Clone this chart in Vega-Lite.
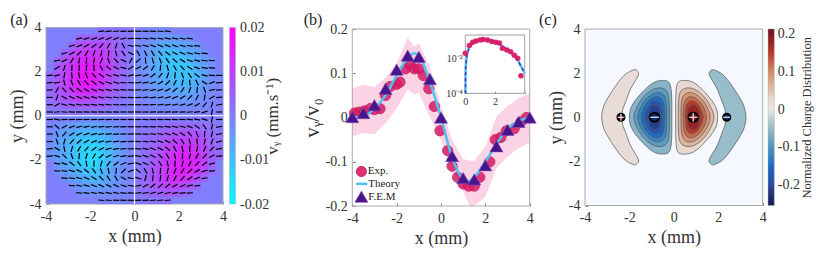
{"$schema":"https://vega.github.io/schema/vega-lite/v6.json","width":830,"height":266,"padding":0,"autosize":{"type":"none"},"background":"white",
"config":{"view":{"stroke":null},"axis":{"labelFont":"Liberation Serif","titleFont":"Liberation Serif","labelFontSize":14,"titleFontSize":18,"titleFontWeight":"normal","labelColor":"#333","titleColor":"#333","tickColor":"#888","domain":false,"grid":false,"tickSize":-3,"labelPadding":8,"labelFlush":false,"labelOverlap":false,"zindex":1},"text":{"font":"Liberation Serif","color":"#222"}},
"resolve":{"scale":{"x":"independent","y":"independent","color":"independent","size":"independent","angle":"independent"},"axis":{"x":"independent","y":"independent"}},
"datasets":{"field":[
{"x":-1.5,"y":3.83,"v":0.002,"a":8},{"x":-1.17,"y":3.83,"v":0.002,"a":6},{"x":-0.83,"y":3.83,"v":0.002,"a":5},{"x":-0.5,"y":3.83,"v":0.001,"a":3},{"x":-0.17,"y":3.83,"v":0.001,"a":2},{"x":0.17,"y":3.83,"v":0,"a":-2},{"x":0.5,"y":3.83,"v":-0.001,"a":-3},{"x":0.83,"y":3.83,"v":-0.001,"a":-4},{"x":1.17,"y":3.83,"v":-0.002,"a":-5},{"x":1.5,"y":3.83,"v":-0.002,"a":-6},
{"x":-2.5,"y":3.5,"v":0.004,"a":12},{"x":-2.17,"y":3.5,"v":0.006,"a":15},{"x":-1.83,"y":3.5,"v":0.006,"a":18},{"x":-1.5,"y":3.5,"v":0.006,"a":20},{"x":-1.17,"y":3.5,"v":0.005,"a":22},{"x":-0.83,"y":3.5,"v":0.004,"a":20},{"x":-0.5,"y":3.5,"v":0.002,"a":10},{"x":-0.17,"y":3.5,"v":0.001,"a":3},{"x":0.17,"y":3.5,"v":-0.001,"a":-3},{"x":0.5,"y":3.5,"v":-0.002,"a":-5},{"x":0.83,"y":3.5,"v":-0.003,"a":-8},{"x":1.17,"y":3.5,"v":-0.004,"a":-10},{"x":1.5,"y":3.5,"v":-0.005,"a":-12},{"x":1.83,"y":3.5,"v":-0.005,"a":-12},{"x":2.17,"y":3.5,"v":-0.004,"a":-10},{"x":2.5,"y":3.5,"v":-0.003,"a":-8},
{"x":-2.83,"y":3.17,"v":0.005,"a":18},{"x":-2.5,"y":3.17,"v":0.008,"a":22},{"x":-2.17,"y":3.17,"v":0.01,"a":30},{"x":-1.83,"y":3.17,"v":0.01,"a":38},{"x":-1.5,"y":3.17,"v":0.01,"a":50},{"x":-1.17,"y":3.17,"v":0.008,"a":60},{"x":-0.83,"y":3.17,"v":0.005,"a":70},{"x":-0.5,"y":3.17,"v":0.003,"a":-60},{"x":-0.17,"y":3.17,"v":0.001,"a":-10},{"x":0.17,"y":3.17,"v":-0.002,"a":-8},{"x":0.5,"y":3.17,"v":-0.003,"a":-15},{"x":0.83,"y":3.17,"v":-0.005,"a":-20},{"x":1.17,"y":3.17,"v":-0.007,"a":-22},{"x":1.5,"y":3.17,"v":-0.008,"a":-22},{"x":1.83,"y":3.17,"v":-0.008,"a":-20},{"x":2.17,"y":3.17,"v":-0.007,"a":-15},{"x":2.5,"y":3.17,"v":-0.006,"a":-10},{"x":2.83,"y":3.17,"v":-0.004,"a":-5},
{"x":-3.17,"y":2.83,"v":0.005,"a":15},{"x":-2.83,"y":2.83,"v":0.009,"a":28},{"x":-2.5,"y":2.83,"v":0.012,"a":45},{"x":-2.17,"y":2.83,"v":0.014,"a":60},{"x":-1.83,"y":2.83,"v":0.014,"a":70},{"x":-1.5,"y":2.83,"v":0.013,"a":78},{"x":-1.17,"y":2.83,"v":0.01,"a":85},{"x":-0.83,"y":2.83,"v":0.007,"a":-75},{"x":-0.5,"y":2.83,"v":0.004,"a":-55},{"x":-0.17,"y":2.83,"v":0.001,"a":-25},{"x":0.17,"y":2.83,"v":-0.002,"a":-60},{"x":0.5,"y":2.83,"v":-0.004,"a":-65},{"x":0.83,"y":2.83,"v":-0.006,"a":-60},{"x":1.17,"y":2.83,"v":-0.009,"a":-50},{"x":1.5,"y":2.83,"v":-0.011,"a":-38},{"x":1.83,"y":2.83,"v":-0.011,"a":-30},{"x":2.17,"y":2.83,"v":-0.01,"a":-22},{"x":2.5,"y":2.83,"v":-0.008,"a":-15},{"x":2.83,"y":2.83,"v":-0.006,"a":-10},{"x":3.17,"y":2.83,"v":-0.003,"a":-5},
{"x":-3.5,"y":2.5,"v":0.004,"a":10},{"x":-3.17,"y":2.5,"v":0.008,"a":25},{"x":-2.83,"y":2.5,"v":0.012,"a":60},{"x":-2.5,"y":2.5,"v":0.015,"a":80},{"x":-2.17,"y":2.5,"v":0.017,"a":85},{"x":-1.83,"y":2.5,"v":0.016,"a":80},{"x":-1.5,"y":2.5,"v":0.014,"a":65},{"x":-1.17,"y":2.5,"v":0.011,"a":-70},{"x":-0.83,"y":2.5,"v":0.007,"a":-45},{"x":-0.5,"y":2.5,"v":0.004,"a":-25},{"x":-0.17,"y":2.5,"v":0.001,"a":60},{"x":0.17,"y":2.5,"v":-0.002,"a":40},{"x":0.5,"y":2.5,"v":-0.004,"a":-85},{"x":0.83,"y":2.5,"v":-0.007,"a":-75},{"x":1.17,"y":2.5,"v":-0.01,"a":-70},{"x":1.5,"y":2.5,"v":-0.012,"a":-55},{"x":1.83,"y":2.5,"v":-0.013,"a":-42},{"x":2.17,"y":2.5,"v":-0.012,"a":-30},{"x":2.5,"y":2.5,"v":-0.01,"a":-22},{"x":2.83,"y":2.5,"v":-0.008,"a":-15},{"x":3.17,"y":2.5,"v":-0.005,"a":-8},{"x":3.5,"y":2.5,"v":-0.003,"a":-3},
{"x":-3.5,"y":2.17,"v":0.006,"a":30},{"x":-3.17,"y":2.17,"v":0.01,"a":70},{"x":-2.83,"y":2.17,"v":0.014,"a":88},{"x":-2.5,"y":2.17,"v":0.017,"a":88},{"x":-2.17,"y":2.17,"v":0.019,"a":85},{"x":-1.83,"y":2.17,"v":0.018,"a":-85},{"x":-1.5,"y":2.17,"v":0.015,"a":-60},{"x":-1.17,"y":2.17,"v":0.012,"a":-40},{"x":-0.83,"y":2.17,"v":0.008,"a":-25},{"x":-0.5,"y":2.17,"v":0.004,"a":-15},{"x":-0.17,"y":2.17,"v":0.001,"a":30},{"x":0.17,"y":2.17,"v":-0.002,"a":25},{"x":0.5,"y":2.17,"v":-0.004,"a":35},{"x":0.83,"y":2.17,"v":-0.007,"a":60},{"x":1.17,"y":2.17,"v":-0.01,"a":85},{"x":1.5,"y":2.17,"v":-0.012,"a":-75},{"x":1.83,"y":2.17,"v":-0.013,"a":-60},{"x":2.17,"y":2.17,"v":-0.013,"a":-45},{"x":2.5,"y":2.17,"v":-0.012,"a":-32},{"x":2.83,"y":2.17,"v":-0.009,"a":-20},{"x":3.17,"y":2.17,"v":-0.006,"a":-10},{"x":3.5,"y":2.17,"v":-0.003,"a":-3},
{"x":-3.83,"y":1.83,"v":0.004,"a":5},{"x":-3.5,"y":1.83,"v":0.007,"a":15},{"x":-3.17,"y":1.83,"v":0.011,"a":80},{"x":-2.83,"y":1.83,"v":0.015,"a":-85},{"x":-2.5,"y":1.83,"v":0.018,"a":-80},{"x":-2.17,"y":1.83,"v":0.02,"a":-70},{"x":-1.83,"y":1.83,"v":0.018,"a":-50},{"x":-1.5,"y":1.83,"v":0.015,"a":-35},{"x":-1.17,"y":1.83,"v":0.011,"a":-22},{"x":-0.83,"y":1.83,"v":0.007,"a":-15},{"x":-0.5,"y":1.83,"v":0.004,"a":-8},{"x":-0.17,"y":1.83,"v":0.001,"a":15},{"x":0.17,"y":1.83,"v":-0.001,"a":10},{"x":0.5,"y":1.83,"v":-0.003,"a":20},{"x":0.83,"y":1.83,"v":-0.006,"a":35},{"x":1.17,"y":1.83,"v":-0.008,"a":50},{"x":1.5,"y":1.83,"v":-0.01,"a":70},{"x":1.83,"y":1.83,"v":-0.012,"a":85},{"x":2.17,"y":1.83,"v":-0.012,"a":-70},{"x":2.5,"y":1.83,"v":-0.012,"a":-55},{"x":2.83,"y":1.83,"v":-0.01,"a":-35},{"x":3.17,"y":1.83,"v":-0.006,"a":-15},{"x":3.5,"y":1.83,"v":-0.003,"a":-5},{"x":3.83,"y":1.83,"v":-0.002,"a":0},
{"x":-3.83,"y":1.5,"v":0.004,"a":3},{"x":-3.5,"y":1.5,"v":0.007,"a":10},{"x":-3.17,"y":1.5,"v":0.011,"a":-75},{"x":-2.83,"y":1.5,"v":0.015,"a":-70},{"x":-2.5,"y":1.5,"v":0.018,"a":-60},{"x":-2.17,"y":1.5,"v":0.02,"a":-48},{"x":-1.83,"y":1.5,"v":0.018,"a":-38},{"x":-1.5,"y":1.5,"v":0.014,"a":-28},{"x":-1.17,"y":1.5,"v":0.01,"a":-18},{"x":-0.83,"y":1.5,"v":0.006,"a":-12},{"x":-0.5,"y":1.5,"v":0.003,"a":-6},{"x":-0.17,"y":1.5,"v":0.001,"a":-3},{"x":0.17,"y":1.5,"v":-0.001,"a":5},{"x":0.5,"y":1.5,"v":-0.003,"a":10},{"x":0.83,"y":1.5,"v":-0.005,"a":18},{"x":1.17,"y":1.5,"v":-0.007,"a":30},{"x":1.5,"y":1.5,"v":-0.008,"a":45},{"x":1.83,"y":1.5,"v":-0.01,"a":62},{"x":2.17,"y":1.5,"v":-0.011,"a":78},{"x":2.5,"y":1.5,"v":-0.01,"a":-85},{"x":2.83,"y":1.5,"v":-0.008,"a":-65},{"x":3.17,"y":1.5,"v":-0.005,"a":-30},{"x":3.5,"y":1.5,"v":-0.003,"a":20},{"x":3.83,"y":1.5,"v":-0.001,"a":5},
{"x":-3.83,"y":1.17,"v":0.004,"a":3},{"x":-3.5,"y":1.17,"v":0.007,"a":60},{"x":-3.17,"y":1.17,"v":0.01,"a":-50},{"x":-2.83,"y":1.17,"v":0.013,"a":-45},{"x":-2.5,"y":1.17,"v":0.016,"a":-38},{"x":-2.17,"y":1.17,"v":0.017,"a":-30},{"x":-1.83,"y":1.17,"v":0.015,"a":-22},{"x":-1.5,"y":1.17,"v":0.012,"a":-16},{"x":-1.17,"y":1.17,"v":0.008,"a":-12},{"x":-0.83,"y":1.17,"v":0.005,"a":-8},{"x":-0.5,"y":1.17,"v":0.003,"a":-5},{"x":-0.17,"y":1.17,"v":0.001,"a":-2},{"x":0.17,"y":1.17,"v":-0.001,"a":3},{"x":0.5,"y":1.17,"v":-0.002,"a":8},{"x":0.83,"y":1.17,"v":-0.004,"a":12},{"x":1.17,"y":1.17,"v":-0.005,"a":18},{"x":1.5,"y":1.17,"v":-0.006,"a":28},{"x":1.83,"y":1.17,"v":-0.007,"a":40},{"x":2.17,"y":1.17,"v":-0.008,"a":55},{"x":2.5,"y":1.17,"v":-0.008,"a":70},{"x":2.83,"y":1.17,"v":-0.006,"a":85},{"x":3.17,"y":1.17,"v":-0.004,"a":-70},{"x":3.5,"y":1.17,"v":-0.002,"a":10},{"x":3.83,"y":1.17,"v":-0.001,"a":3},
{"x":-3.83,"y":0.83,"v":0.003,"a":0},{"x":-3.5,"y":0.83,"v":0.006,"a":70},{"x":-3.17,"y":0.83,"v":0.008,"a":-30},{"x":-2.83,"y":0.83,"v":0.01,"a":-25},{"x":-2.5,"y":0.83,"v":0.012,"a":-22},{"x":-2.17,"y":0.83,"v":0.012,"a":-18},{"x":-1.83,"y":0.83,"v":0.011,"a":-14},{"x":-1.5,"y":0.83,"v":0.009,"a":-10},{"x":-1.17,"y":0.83,"v":0.006,"a":-8},{"x":-0.83,"y":0.83,"v":0.004,"a":-6},{"x":-0.5,"y":0.83,"v":0.002,"a":-3},{"x":-0.17,"y":0.83,"v":0.001,"a":-2},{"x":0.17,"y":0.83,"v":-0.001,"a":2},{"x":0.5,"y":0.83,"v":-0.002,"a":4},{"x":0.83,"y":0.83,"v":-0.003,"a":7},{"x":1.17,"y":0.83,"v":-0.004,"a":10},{"x":1.5,"y":0.83,"v":-0.004,"a":15},{"x":1.83,"y":0.83,"v":-0.005,"a":22},{"x":2.17,"y":0.83,"v":-0.005,"a":32},{"x":2.5,"y":0.83,"v":-0.005,"a":45},{"x":2.83,"y":0.83,"v":-0.004,"a":62},{"x":3.17,"y":0.83,"v":-0.003,"a":80},{"x":3.5,"y":0.83,"v":-0.002,"a":30},{"x":3.83,"y":0.83,"v":0,"a":5},
{"x":-3.83,"y":0.5,"v":0.002,"a":0},{"x":-3.5,"y":0.5,"v":0.004,"a":30},{"x":-3.17,"y":0.5,"v":0.005,"a":-15},{"x":-2.83,"y":0.5,"v":0.006,"a":-12},{"x":-2.5,"y":0.5,"v":0.007,"a":-10},{"x":-2.17,"y":0.5,"v":0.007,"a":-8},{"x":-1.83,"y":0.5,"v":0.006,"a":-7},{"x":-1.5,"y":0.5,"v":0.005,"a":-6},{"x":-1.17,"y":0.5,"v":0.004,"a":-5},{"x":-0.83,"y":0.5,"v":0.002,"a":-4},{"x":-0.5,"y":0.5,"v":0.001,"a":-2},{"x":-0.17,"y":0.5,"v":0,"a":0},{"x":0.17,"y":0.5,"v":0,"a":0},{"x":0.5,"y":0.5,"v":-0.001,"a":2},{"x":0.83,"y":0.5,"v":-0.002,"a":4},{"x":1.17,"y":0.5,"v":-0.002,"a":5},{"x":1.5,"y":0.5,"v":-0.003,"a":7},{"x":1.83,"y":0.5,"v":-0.003,"a":10},{"x":2.17,"y":0.5,"v":-0.003,"a":15},{"x":2.5,"y":0.5,"v":-0.003,"a":20},{"x":2.83,"y":0.5,"v":-0.002,"a":30},{"x":3.17,"y":0.5,"v":-0.002,"a":50},{"x":3.5,"y":0.5,"v":-0.001,"a":75},{"x":3.83,"y":0.5,"v":0,"a":10},
{"x":-3.83,"y":0.17,"v":0.001,"a":0},{"x":-3.5,"y":0.17,"v":0.001,"a":5},{"x":-3.17,"y":0.17,"v":0.002,"a":-5},{"x":-2.83,"y":0.17,"v":0.002,"a":-4},{"x":-2.5,"y":0.17,"v":0.002,"a":-3},{"x":-2.17,"y":0.17,"v":0.002,"a":-3},{"x":-1.83,"y":0.17,"v":0.002,"a":-3},{"x":-1.5,"y":0.17,"v":0.002,"a":-2},{"x":-1.17,"y":0.17,"v":0.001,"a":-2},{"x":-0.83,"y":0.17,"v":0.001,"a":-1},{"x":-0.5,"y":0.17,"v":0,"a":0},{"x":-0.17,"y":0.17,"v":0,"a":0},{"x":0.17,"y":0.17,"v":0,"a":0},{"x":0.5,"y":0.17,"v":0,"a":0},{"x":0.83,"y":0.17,"v":-0.001,"a":1},{"x":1.17,"y":0.17,"v":-0.001,"a":2},{"x":1.5,"y":0.17,"v":-0.001,"a":2},{"x":1.83,"y":0.17,"v":-0.001,"a":3},{"x":2.17,"y":0.17,"v":-0.001,"a":4},{"x":2.5,"y":0.17,"v":-0.001,"a":5},{"x":2.83,"y":0.17,"v":-0.001,"a":8},{"x":3.17,"y":0.17,"v":0,"a":15},{"x":3.5,"y":0.17,"v":0,"a":80},{"x":3.83,"y":0.17,"v":0,"a":0},
{"x":-3.83,"y":-0.17,"v":0,"a":0},{"x":-3.5,"y":-0.17,"v":0,"a":-10},{"x":-3.17,"y":-0.17,"v":-0.001,"a":4},{"x":-2.83,"y":-0.17,"v":-0.001,"a":3},{"x":-2.5,"y":-0.17,"v":-0.002,"a":3},{"x":-2.17,"y":-0.17,"v":-0.002,"a":2},{"x":-1.83,"y":-0.17,"v":-0.002,"a":2},{"x":-1.5,"y":-0.17,"v":-0.002,"a":1},{"x":-1.17,"y":-0.17,"v":-0.001,"a":1},{"x":-0.83,"y":-0.17,"v":-0.001,"a":0},{"x":-0.5,"y":-0.17,"v":0,"a":0},{"x":-0.17,"y":-0.17,"v":0,"a":0},{"x":0.17,"y":-0.17,"v":0,"a":0},{"x":0.5,"y":-0.17,"v":0,"a":-1},{"x":0.83,"y":-0.17,"v":0.001,"a":-1},{"x":1.17,"y":-0.17,"v":0.001,"a":-2},{"x":1.5,"y":-0.17,"v":0.001,"a":-2},{"x":1.83,"y":-0.17,"v":0.001,"a":-3},{"x":2.17,"y":-0.17,"v":0.001,"a":-4},{"x":2.5,"y":-0.17,"v":0.001,"a":-6},{"x":2.83,"y":-0.17,"v":0.001,"a":-10},{"x":3.17,"y":-0.17,"v":0.001,"a":-15},{"x":3.5,"y":-0.17,"v":0.001,"a":80},{"x":3.83,"y":-0.17,"v":0,"a":0},
{"x":-3.83,"y":-0.5,"v":-0.001,"a":0},{"x":-3.5,"y":-0.5,"v":-0.002,"a":-40},{"x":-3.17,"y":-0.5,"v":-0.004,"a":30},{"x":-2.83,"y":-0.5,"v":-0.005,"a":20},{"x":-2.5,"y":-0.5,"v":-0.006,"a":15},{"x":-2.17,"y":-0.5,"v":-0.007,"a":12},{"x":-1.83,"y":-0.5,"v":-0.007,"a":10},{"x":-1.5,"y":-0.5,"v":-0.006,"a":8},{"x":-1.17,"y":-0.5,"v":-0.005,"a":5},{"x":-0.83,"y":-0.5,"v":-0.003,"a":4},{"x":-0.5,"y":-0.5,"v":-0.002,"a":2},{"x":-0.17,"y":-0.5,"v":0,"a":0},{"x":0.17,"y":-0.5,"v":0.001,"a":0},{"x":0.5,"y":-0.5,"v":0.001,"a":-2},{"x":0.83,"y":-0.5,"v":0.002,"a":-3},{"x":1.17,"y":-0.5,"v":0.003,"a":-5},{"x":1.5,"y":-0.5,"v":0.004,"a":-7},{"x":1.83,"y":-0.5,"v":0.005,"a":-10},{"x":2.17,"y":-0.5,"v":0.005,"a":-14},{"x":2.5,"y":-0.5,"v":0.005,"a":-20},{"x":2.83,"y":-0.5,"v":0.004,"a":-35},{"x":3.17,"y":-0.5,"v":0.003,"a":-55},{"x":3.5,"y":-0.5,"v":0.002,"a":80},{"x":3.83,"y":-0.5,"v":0.001,"a":10},
{"x":-3.83,"y":-0.83,"v":-0.002,"a":0},{"x":-3.5,"y":-0.83,"v":-0.004,"a":-70},{"x":-3.17,"y":-0.83,"v":-0.006,"a":50},{"x":-2.83,"y":-0.83,"v":-0.008,"a":32},{"x":-2.5,"y":-0.83,"v":-0.01,"a":25},{"x":-2.17,"y":-0.83,"v":-0.011,"a":18},{"x":-1.83,"y":-0.83,"v":-0.011,"a":14},{"x":-1.5,"y":-0.83,"v":-0.01,"a":10},{"x":-1.17,"y":-0.83,"v":-0.007,"a":7},{"x":-0.83,"y":-0.83,"v":-0.005,"a":5},{"x":-0.5,"y":-0.83,"v":-0.003,"a":3},{"x":-0.17,"y":-0.83,"v":-0.001,"a":2},{"x":0.17,"y":-0.83,"v":0.001,"a":-2},{"x":0.5,"y":-0.83,"v":0.002,"a":-4},{"x":0.83,"y":-0.83,"v":0.003,"a":-6},{"x":1.17,"y":-0.83,"v":0.005,"a":-10},{"x":1.5,"y":-0.83,"v":0.006,"a":-15},{"x":1.83,"y":-0.83,"v":0.008,"a":-22},{"x":2.17,"y":-0.83,"v":0.009,"a":-32},{"x":2.5,"y":-0.83,"v":0.009,"a":-48},{"x":2.83,"y":-0.83,"v":0.008,"a":-68},{"x":3.17,"y":-0.83,"v":0.006,"a":85},{"x":3.5,"y":-0.83,"v":0.004,"a":75},{"x":3.83,"y":-0.83,"v":0.002,"a":10},
{"x":-3.83,"y":-1.17,"v":-0.002,"a":0},{"x":-3.5,"y":-1.17,"v":-0.005,"a":-70},{"x":-3.17,"y":-1.17,"v":-0.007,"a":75},{"x":-2.83,"y":-1.17,"v":-0.01,"a":50},{"x":-2.5,"y":-1.17,"v":-0.012,"a":40},{"x":-2.17,"y":-1.17,"v":-0.014,"a":30},{"x":-1.83,"y":-1.17,"v":-0.014,"a":22},{"x":-1.5,"y":-1.17,"v":-0.012,"a":16},{"x":-1.17,"y":-1.17,"v":-0.009,"a":10},{"x":-0.83,"y":-1.17,"v":-0.006,"a":7},{"x":-0.5,"y":-1.17,"v":-0.003,"a":4},{"x":-0.17,"y":-1.17,"v":-0.001,"a":2},{"x":0.17,"y":-1.17,"v":0.001,"a":-3},{"x":0.5,"y":-1.17,"v":0.003,"a":-6},{"x":0.83,"y":-1.17,"v":0.004,"a":-10},{"x":1.17,"y":-1.17,"v":0.006,"a":-18},{"x":1.5,"y":-1.17,"v":0.008,"a":-28},{"x":1.83,"y":-1.17,"v":0.011,"a":-42},{"x":2.17,"y":-1.17,"v":0.012,"a":-58},{"x":2.5,"y":-1.17,"v":0.012,"a":-75},{"x":2.83,"y":-1.17,"v":0.011,"a":-88},{"x":3.17,"y":-1.17,"v":0.008,"a":78},{"x":3.5,"y":-1.17,"v":0.005,"a":70},{"x":3.83,"y":-1.17,"v":0.003,"a":15},
{"x":-3.83,"y":-1.5,"v":-0.003,"a":3},{"x":-3.5,"y":-1.5,"v":-0.005,"a":-30},{"x":-3.17,"y":-1.5,"v":-0.008,"a":-80},{"x":-2.83,"y":-1.5,"v":-0.011,"a":75},{"x":-2.5,"y":-1.5,"v":-0.014,"a":60},{"x":-2.17,"y":-1.5,"v":-0.016,"a":48},{"x":-1.83,"y":-1.5,"v":-0.016,"a":36},{"x":-1.5,"y":-1.5,"v":-0.014,"a":26},{"x":-1.17,"y":-1.5,"v":-0.01,"a":16},{"x":-0.83,"y":-1.5,"v":-0.007,"a":10},{"x":-0.5,"y":-1.5,"v":-0.004,"a":6},{"x":-0.17,"y":-1.5,"v":-0.001,"a":3},{"x":0.17,"y":-1.5,"v":0.001,"a":-5},{"x":0.5,"y":-1.5,"v":0.003,"a":-10},{"x":0.83,"y":-1.5,"v":0.005,"a":-18},{"x":1.17,"y":-1.5,"v":0.008,"a":-28},{"x":1.5,"y":-1.5,"v":0.011,"a":-42},{"x":1.83,"y":-1.5,"v":0.013,"a":-60},{"x":2.17,"y":-1.5,"v":0.015,"a":-78},{"x":2.5,"y":-1.5,"v":0.015,"a":88},{"x":2.83,"y":-1.5,"v":0.013,"a":78},{"x":3.17,"y":-1.5,"v":0.01,"a":65},{"x":3.5,"y":-1.5,"v":0.006,"a":45},{"x":3.83,"y":-1.5,"v":0.003,"a":10},
{"x":-3.83,"y":-1.83,"v":-0.003,"a":3},{"x":-3.5,"y":-1.83,"v":-0.005,"a":-15},{"x":-3.17,"y":-1.83,"v":-0.008,"a":-45},{"x":-2.83,"y":-1.83,"v":-0.011,"a":-70},{"x":-2.5,"y":-1.83,"v":-0.014,"a":85},{"x":-2.17,"y":-1.83,"v":-0.016,"a":72},{"x":-1.83,"y":-1.83,"v":-0.017,"a":58},{"x":-1.5,"y":-1.83,"v":-0.015,"a":42},{"x":-1.17,"y":-1.83,"v":-0.011,"a":28},{"x":-0.83,"y":-1.83,"v":-0.007,"a":16},{"x":-0.5,"y":-1.83,"v":-0.004,"a":10},{"x":-0.17,"y":-1.83,"v":-0.001,"a":5},{"x":0.17,"y":-1.83,"v":0.001,"a":-10},{"x":0.5,"y":-1.83,"v":0.003,"a":-18},{"x":0.83,"y":-1.83,"v":0.006,"a":-28},{"x":1.17,"y":-1.83,"v":0.009,"a":-42},{"x":1.5,"y":-1.83,"v":0.012,"a":-60},{"x":1.83,"y":-1.83,"v":0.015,"a":-78},{"x":2.17,"y":-1.83,"v":0.017,"a":88},{"x":2.5,"y":-1.83,"v":0.017,"a":76},{"x":2.83,"y":-1.83,"v":0.015,"a":62},{"x":3.17,"y":-1.83,"v":0.011,"a":50},{"x":3.5,"y":-1.83,"v":0.007,"a":25},{"x":3.83,"y":-1.83,"v":0.004,"a":5},
{"x":-3.5,"y":-2.17,"v":-0.004,"a":-8},{"x":-3.17,"y":-2.17,"v":-0.007,"a":-20},{"x":-2.83,"y":-2.17,"v":-0.01,"a":-35},{"x":-2.5,"y":-2.17,"v":-0.013,"a":-55},{"x":-2.17,"y":-2.17,"v":-0.015,"a":-80},{"x":-1.83,"y":-2.17,"v":-0.016,"a":88},{"x":-1.5,"y":-2.17,"v":-0.014,"a":75},{"x":-1.17,"y":-2.17,"v":-0.01,"a":55},{"x":-0.83,"y":-2.17,"v":-0.006,"a":35},{"x":-0.5,"y":-2.17,"v":-0.003,"a":22},{"x":-0.17,"y":-2.17,"v":-0.001,"a":10},{"x":0.17,"y":-2.17,"v":0.001,"a":-18},{"x":0.5,"y":-2.17,"v":0.003,"a":-25},{"x":0.83,"y":-2.17,"v":0.006,"a":-40},{"x":1.17,"y":-2.17,"v":0.01,"a":-58},{"x":1.5,"y":-2.17,"v":0.013,"a":-78},{"x":1.83,"y":-2.17,"v":0.016,"a":88},{"x":2.17,"y":-2.17,"v":0.018,"a":75},{"x":2.5,"y":-2.17,"v":0.018,"a":62},{"x":2.83,"y":-2.17,"v":0.016,"a":48},{"x":3.17,"y":-2.17,"v":0.011,"a":35},{"x":3.5,"y":-2.17,"v":0.006,"a":15},
{"x":-3.5,"y":-2.5,"v":-0.003,"a":-3},{"x":-3.17,"y":-2.5,"v":-0.005,"a":-8},{"x":-2.83,"y":-2.5,"v":-0.008,"a":-15},{"x":-2.5,"y":-2.5,"v":-0.01,"a":-25},{"x":-2.17,"y":-2.5,"v":-0.012,"a":-38},{"x":-1.83,"y":-2.5,"v":-0.013,"a":-52},{"x":-1.5,"y":-2.5,"v":-0.011,"a":-70},{"x":-1.17,"y":-2.5,"v":-0.008,"a":-80},{"x":-0.83,"y":-2.5,"v":-0.005,"a":85},{"x":-0.5,"y":-2.5,"v":-0.002,"a":45},{"x":-0.17,"y":-2.5,"v":-0.001,"a":20},{"x":0.17,"y":-2.5,"v":0.001,"a":-40},{"x":0.5,"y":-2.5,"v":0.004,"a":-60},{"x":0.83,"y":-2.5,"v":0.007,"a":-78},{"x":1.17,"y":-2.5,"v":0.011,"a":85},{"x":1.5,"y":-2.5,"v":0.014,"a":78},{"x":1.83,"y":-2.5,"v":0.017,"a":68},{"x":2.17,"y":-2.5,"v":0.018,"a":55},{"x":2.5,"y":-2.5,"v":0.017,"a":42},{"x":2.83,"y":-2.5,"v":0.014,"a":30},{"x":3.17,"y":-2.5,"v":0.009,"a":18},{"x":3.5,"y":-2.5,"v":0.004,"a":5},
{"x":-3.17,"y":-2.83,"v":-0.003,"a":-5},{"x":-2.83,"y":-2.83,"v":-0.005,"a":-8},{"x":-2.5,"y":-2.83,"v":-0.007,"a":-15},{"x":-2.17,"y":-2.83,"v":-0.009,"a":-22},{"x":-1.83,"y":-2.83,"v":-0.01,"a":-32},{"x":-1.5,"y":-2.83,"v":-0.009,"a":-45},{"x":-1.17,"y":-2.83,"v":-0.007,"a":-58},{"x":-0.83,"y":-2.83,"v":-0.005,"a":-60},{"x":-0.5,"y":-2.83,"v":-0.002,"a":-30},{"x":-0.17,"y":-2.83,"v":-0.001,"a":-10},{"x":0.17,"y":-2.83,"v":0.002,"a":-15},{"x":0.5,"y":-2.83,"v":0.004,"a":75},{"x":0.83,"y":-2.83,"v":0.008,"a":85},{"x":1.17,"y":-2.83,"v":0.011,"a":82},{"x":1.5,"y":-2.83,"v":0.014,"a":72},{"x":1.83,"y":-2.83,"v":0.015,"a":62},{"x":2.17,"y":-2.83,"v":0.015,"a":50},{"x":2.5,"y":-2.83,"v":0.013,"a":35},{"x":2.83,"y":-2.83,"v":0.009,"a":20},{"x":3.17,"y":-2.83,"v":0.005,"a":8},
{"x":-2.83,"y":-3.17,"v":-0.003,"a":-5},{"x":-2.5,"y":-3.17,"v":-0.004,"a":-10},{"x":-2.17,"y":-3.17,"v":-0.006,"a":-14},{"x":-1.83,"y":-3.17,"v":-0.006,"a":-20},{"x":-1.5,"y":-3.17,"v":-0.006,"a":-26},{"x":-1.17,"y":-3.17,"v":-0.005,"a":-28},{"x":-0.83,"y":-3.17,"v":-0.003,"a":-25},{"x":-0.5,"y":-3.17,"v":-0.002,"a":-18},{"x":-0.17,"y":-3.17,"v":-0.001,"a":-8},{"x":0.17,"y":-3.17,"v":0.002,"a":10},{"x":0.5,"y":-3.17,"v":0.004,"a":30},{"x":0.83,"y":-3.17,"v":0.007,"a":40},{"x":1.17,"y":-3.17,"v":0.009,"a":42},{"x":1.5,"y":-3.17,"v":0.011,"a":38},{"x":1.83,"y":-3.17,"v":0.012,"a":32},{"x":2.17,"y":-3.17,"v":0.01,"a":24},{"x":2.5,"y":-3.17,"v":0.008,"a":14},{"x":2.83,"y":-3.17,"v":0.005,"a":6},
{"x":-2.5,"y":-3.5,"v":-0.002,"a":-5},{"x":-2.17,"y":-3.5,"v":-0.003,"a":-8},{"x":-1.83,"y":-3.5,"v":-0.003,"a":-10},{"x":-1.5,"y":-3.5,"v":-0.003,"a":-12},{"x":-1.17,"y":-3.5,"v":-0.003,"a":-12},{"x":-0.83,"y":-3.5,"v":-0.002,"a":-10},{"x":-0.5,"y":-3.5,"v":-0.001,"a":-7},{"x":-0.17,"y":-3.5,"v":0,"a":-3},{"x":0.17,"y":-3.5,"v":0.001,"a":5},{"x":0.5,"y":-3.5,"v":0.003,"a":10},{"x":0.83,"y":-3.5,"v":0.005,"a":15},{"x":1.17,"y":-3.5,"v":0.006,"a":15},{"x":1.5,"y":-3.5,"v":0.007,"a":14},{"x":1.83,"y":-3.5,"v":0.007,"a":12},{"x":2.17,"y":-3.5,"v":0.005,"a":8},{"x":2.5,"y":-3.5,"v":0.003,"a":4},
{"x":-1.5,"y":-3.83,"v":-0.001,"a":-5},{"x":-1.17,"y":-3.83,"v":-0.001,"a":-5},{"x":-0.83,"y":-3.83,"v":-0.001,"a":-4},{"x":-0.5,"y":-3.83,"v":-0.001,"a":-3},{"x":-0.17,"y":-3.83,"v":0,"a":-2},{"x":0.17,"y":-3.83,"v":0.001,"a":3},{"x":0.5,"y":-3.83,"v":0.001,"a":4},{"x":0.83,"y":-3.83,"v":0.002,"a":5},{"x":1.17,"y":-3.83,"v":0.002,"a":5},{"x":1.5,"y":-3.83,"v":0.003,"a":5}
],
"contours":[
{"k":"c1","i":1,"l":0.02,"x":-1.65,"y":2.1},{"k":"c1","i":2,"l":0.02,"x":-1.8,"y":2.15},{"k":"c1","i":3,"l":0.02,"x":-2.24,"y":1.9},{"k":"c1","i":4,"l":0.02,"x":-2.7,"y":1.3},{"k":"c1","i":5,"l":0.02,"x":-3.07,"y":0.7},{"k":"c1","i":5.5,"l":0.02,"x":-3.2,"y":0.35},{"k":"c1","i":6,"l":0.02,"x":-3.25,"y":0},{"k":"c1","i":6.5,"l":0.02,"x":-3.2,"y":-0.35},{"k":"c1","i":7,"l":0.02,"x":-3.07,"y":-0.7},{"k":"c1","i":8,"l":0.02,"x":-2.7,"y":-1.3},{"k":"c1","i":9,"l":0.02,"x":-2.24,"y":-1.9},{"k":"c1","i":10,"l":0.02,"x":-1.8,"y":-2.15},{"k":"c1","i":11,"l":0.02,"x":-1.65,"y":-2.1},{"k":"c1","i":12,"l":0.02,"x":-1.6,"y":-1.9},{"k":"c1","i":13,"l":0.02,"x":-1.94,"y":-1.3},{"k":"c1","i":14,"l":0.02,"x":-2.17,"y":-0.7},{"k":"c1","i":14.5,"l":0.02,"x":-2.3,"y":-0.35},{"k":"c1","i":15,"l":0.02,"x":-2.35,"y":0},{"k":"c1","i":15.5,"l":0.02,"x":-2.3,"y":0.35},{"k":"c1","i":16,"l":0.02,"x":-2.17,"y":0.7},{"k":"c1","i":17,"l":0.02,"x":-1.94,"y":1.3},{"k":"c1","i":18,"l":0.02,"x":-1.6,"y":1.9},
{"k":"c2","i":1,"l":-0.05,"x":1.65,"y":2.1},{"k":"c2","i":2,"l":-0.05,"x":1.8,"y":2.15},{"k":"c2","i":3,"l":-0.05,"x":2.24,"y":1.9},{"k":"c2","i":4,"l":-0.05,"x":2.7,"y":1.3},{"k":"c2","i":5,"l":-0.05,"x":3.07,"y":0.7},{"k":"c2","i":5.5,"l":-0.05,"x":3.2,"y":0.35},{"k":"c2","i":6,"l":-0.05,"x":3.25,"y":0},{"k":"c2","i":6.5,"l":-0.05,"x":3.2,"y":-0.35},{"k":"c2","i":7,"l":-0.05,"x":3.07,"y":-0.7},{"k":"c2","i":8,"l":-0.05,"x":2.7,"y":-1.3},{"k":"c2","i":9,"l":-0.05,"x":2.24,"y":-1.9},{"k":"c2","i":10,"l":-0.05,"x":1.8,"y":-2.15},{"k":"c2","i":11,"l":-0.05,"x":1.65,"y":-2.1},{"k":"c2","i":12,"l":-0.05,"x":1.6,"y":-1.9},{"k":"c2","i":13,"l":-0.05,"x":1.94,"y":-1.3},{"k":"c2","i":14,"l":-0.05,"x":2.17,"y":-0.7},{"k":"c2","i":14.5,"l":-0.05,"x":2.3,"y":-0.35},{"k":"c2","i":15,"l":-0.05,"x":2.35,"y":0},{"k":"c2","i":15.5,"l":-0.05,"x":2.3,"y":0.35},{"k":"c2","i":16,"l":-0.05,"x":2.17,"y":0.7},{"k":"c2","i":17,"l":-0.05,"x":1.94,"y":1.3},{"k":"c2","i":18,"l":-0.05,"x":1.6,"y":1.9},
{"k":"b1","i":1,"l":-0.06,"x":-0.09,"y":0},{"k":"b1","i":2,"l":-0.06,"x":-0.1,"y":1},{"k":"b1","i":3,"l":-0.06,"x":-0.2,"y":1.55},{"k":"b1","i":4,"l":-0.06,"x":-0.5,"y":1.67},{"k":"b1","i":5,"l":-0.06,"x":-0.95,"y":1.55},{"k":"b1","i":6,"l":-0.06,"x":-1.5,"y":1.05},{"k":"b1","i":7,"l":-0.06,"x":-1.9,"y":0.5},{"k":"b1","i":8,"l":-0.06,"x":-2.0,"y":0},{"k":"b1","i":9,"l":-0.06,"x":-1.9,"y":-0.5},{"k":"b1","i":10,"l":-0.06,"x":-1.5,"y":-1.05},{"k":"b1","i":11,"l":-0.06,"x":-0.95,"y":-1.55},{"k":"b1","i":12,"l":-0.06,"x":-0.5,"y":-1.67},{"k":"b1","i":13,"l":-0.06,"x":-0.2,"y":-1.55},{"k":"b1","i":14,"l":-0.06,"x":-0.1,"y":-1},
{"k":"b2","i":1,"l":-0.09,"x":-0.2,"y":0},{"k":"b2","i":2,"l":-0.09,"x":-0.22,"y":0.8},{"k":"b2","i":3,"l":-0.09,"x":-0.33,"y":1.2},{"k":"b2","i":4,"l":-0.09,"x":-0.65,"y":1.33},{"k":"b2","i":5,"l":-0.09,"x":-1.05,"y":1.2},{"k":"b2","i":6,"l":-0.09,"x":-1.5,"y":0.75},{"k":"b2","i":7,"l":-0.09,"x":-1.8,"y":0},{"k":"b2","i":8,"l":-0.09,"x":-1.5,"y":-0.75},{"k":"b2","i":9,"l":-0.09,"x":-1.05,"y":-1.2},{"k":"b2","i":10,"l":-0.09,"x":-0.65,"y":-1.33},{"k":"b2","i":11,"l":-0.09,"x":-0.33,"y":-1.2},{"k":"b2","i":12,"l":-0.09,"x":-0.22,"y":-0.8},
{"k":"b3","i":1,"l":-0.12,"x":-0.32,"y":0},{"k":"b3","i":2,"l":-0.12,"x":-0.35,"y":0.7},{"k":"b3","i":3,"l":-0.12,"x":-0.47,"y":1.02},{"k":"b3","i":4,"l":-0.12,"x":-0.72,"y":1.12},{"k":"b3","i":5,"l":-0.12,"x":-1.05,"y":1.0},{"k":"b3","i":6,"l":-0.12,"x":-1.42,"y":0.6},{"k":"b3","i":7,"l":-0.12,"x":-1.63,"y":0},{"k":"b3","i":8,"l":-0.12,"x":-1.42,"y":-0.6},{"k":"b3","i":9,"l":-0.12,"x":-1.05,"y":-1.0},{"k":"b3","i":10,"l":-0.12,"x":-0.72,"y":-1.12},{"k":"b3","i":11,"l":-0.12,"x":-0.47,"y":-1.02},{"k":"b3","i":12,"l":-0.12,"x":-0.35,"y":-0.7},
{"k":"b4","i":1,"l":-0.15,"x":-0.42,"y":0},{"k":"b4","i":2,"l":-0.15,"x":-0.45,"y":0.55},{"k":"b4","i":3,"l":-0.15,"x":-0.57,"y":0.85},{"k":"b4","i":4,"l":-0.15,"x":-0.78,"y":0.93},{"k":"b4","i":5,"l":-0.15,"x":-1.05,"y":0.82},{"k":"b4","i":6,"l":-0.15,"x":-1.32,"y":0.5},{"k":"b4","i":7,"l":-0.15,"x":-1.47,"y":0},{"k":"b4","i":8,"l":-0.15,"x":-1.32,"y":-0.5},{"k":"b4","i":9,"l":-0.15,"x":-1.05,"y":-0.82},{"k":"b4","i":10,"l":-0.15,"x":-0.78,"y":-0.93},{"k":"b4","i":11,"l":-0.15,"x":-0.57,"y":-0.85},{"k":"b4","i":12,"l":-0.15,"x":-0.45,"y":-0.55},
{"k":"b5","i":1,"l":-0.18,"x":-0.52,"y":0},{"k":"b5","i":2,"l":-0.18,"x":-0.55,"y":0.45},{"k":"b5","i":3,"l":-0.18,"x":-0.65,"y":0.68},{"k":"b5","i":4,"l":-0.18,"x":-0.83,"y":0.74},{"k":"b5","i":5,"l":-0.18,"x":-1.03,"y":0.65},{"k":"b5","i":6,"l":-0.18,"x":-1.2,"y":0.4},{"k":"b5","i":7,"l":-0.18,"x":-1.32,"y":0},{"k":"b5","i":8,"l":-0.18,"x":-1.2,"y":-0.4},{"k":"b5","i":9,"l":-0.18,"x":-1.03,"y":-0.65},{"k":"b5","i":10,"l":-0.18,"x":-0.83,"y":-0.74},{"k":"b5","i":11,"l":-0.18,"x":-0.65,"y":-0.68},{"k":"b5","i":12,"l":-0.18,"x":-0.55,"y":-0.45},
{"k":"b6","i":1,"l":-0.21,"x":-0.6,"y":0},{"k":"b6","i":2,"l":-0.21,"x":-0.63,"y":0.33},{"k":"b6","i":3,"l":-0.21,"x":-0.72,"y":0.5},{"k":"b6","i":4,"l":-0.21,"x":-0.87,"y":0.56},{"k":"b6","i":5,"l":-0.21,"x":-1.02,"y":0.5},{"k":"b6","i":6,"l":-0.21,"x":-1.12,"y":0.3},{"k":"b6","i":7,"l":-0.21,"x":-1.18,"y":0},{"k":"b6","i":8,"l":-0.21,"x":-1.12,"y":-0.3},{"k":"b6","i":9,"l":-0.21,"x":-1.02,"y":-0.5},{"k":"b6","i":10,"l":-0.21,"x":-0.87,"y":-0.56},{"k":"b6","i":11,"l":-0.21,"x":-0.72,"y":-0.5},{"k":"b6","i":12,"l":-0.21,"x":-0.63,"y":-0.33},
{"k":"r1","i":1,"l":0.025,"x":0.08,"y":0},{"k":"r1","i":2,"l":0.025,"x":0.09,"y":1},{"k":"r1","i":3,"l":0.025,"x":0.17,"y":1.55},{"k":"r1","i":4,"l":0.025,"x":0.47,"y":1.67},{"k":"r1","i":5,"l":0.025,"x":0.93,"y":1.55},{"k":"r1","i":6,"l":0.025,"x":1.47,"y":1.05},{"k":"r1","i":7,"l":0.025,"x":1.87,"y":0.5},{"k":"r1","i":8,"l":0.025,"x":1.97,"y":0},{"k":"r1","i":9,"l":0.025,"x":1.87,"y":-0.5},{"k":"r1","i":10,"l":0.025,"x":1.47,"y":-1.05},{"k":"r1","i":11,"l":0.025,"x":0.93,"y":-1.55},{"k":"r1","i":12,"l":0.025,"x":0.47,"y":-1.67},{"k":"r1","i":13,"l":0.025,"x":0.17,"y":-1.55},{"k":"r1","i":14,"l":0.025,"x":0.09,"y":-1},
{"k":"r2","i":1,"l":0.06,"x":0.2,"y":0},{"k":"r2","i":2,"l":0.06,"x":0.22,"y":0.8},{"k":"r2","i":3,"l":0.06,"x":0.33,"y":1.2},{"k":"r2","i":4,"l":0.06,"x":0.65,"y":1.33},{"k":"r2","i":5,"l":0.06,"x":1.05,"y":1.2},{"k":"r2","i":6,"l":0.06,"x":1.5,"y":0.75},{"k":"r2","i":7,"l":0.06,"x":1.8,"y":0},{"k":"r2","i":8,"l":0.06,"x":1.5,"y":-0.75},{"k":"r2","i":9,"l":0.06,"x":1.05,"y":-1.2},{"k":"r2","i":10,"l":0.06,"x":0.65,"y":-1.33},{"k":"r2","i":11,"l":0.06,"x":0.33,"y":-1.2},{"k":"r2","i":12,"l":0.06,"x":0.22,"y":-0.8},
{"k":"r3","i":1,"l":0.09,"x":0.32,"y":0},{"k":"r3","i":2,"l":0.09,"x":0.35,"y":0.7},{"k":"r3","i":3,"l":0.09,"x":0.47,"y":1.02},{"k":"r3","i":4,"l":0.09,"x":0.72,"y":1.12},{"k":"r3","i":5,"l":0.09,"x":1.05,"y":1.0},{"k":"r3","i":6,"l":0.09,"x":1.42,"y":0.6},{"k":"r3","i":7,"l":0.09,"x":1.63,"y":0},{"k":"r3","i":8,"l":0.09,"x":1.42,"y":-0.6},{"k":"r3","i":9,"l":0.09,"x":1.05,"y":-1.0},{"k":"r3","i":10,"l":0.09,"x":0.72,"y":-1.12},{"k":"r3","i":11,"l":0.09,"x":0.47,"y":-1.02},{"k":"r3","i":12,"l":0.09,"x":0.35,"y":-0.7},
{"k":"r4","i":1,"l":0.12,"x":0.42,"y":0},{"k":"r4","i":2,"l":0.12,"x":0.45,"y":0.55},{"k":"r4","i":3,"l":0.12,"x":0.57,"y":0.85},{"k":"r4","i":4,"l":0.12,"x":0.78,"y":0.93},{"k":"r4","i":5,"l":0.12,"x":1.05,"y":0.82},{"k":"r4","i":6,"l":0.12,"x":1.32,"y":0.5},{"k":"r4","i":7,"l":0.12,"x":1.47,"y":0},{"k":"r4","i":8,"l":0.12,"x":1.32,"y":-0.5},{"k":"r4","i":9,"l":0.12,"x":1.05,"y":-0.82},{"k":"r4","i":10,"l":0.12,"x":0.78,"y":-0.93},{"k":"r4","i":11,"l":0.12,"x":0.57,"y":-0.85},{"k":"r4","i":12,"l":0.12,"x":0.45,"y":-0.55},
{"k":"r5","i":1,"l":0.15,"x":0.52,"y":0},{"k":"r5","i":2,"l":0.15,"x":0.55,"y":0.45},{"k":"r5","i":3,"l":0.15,"x":0.65,"y":0.68},{"k":"r5","i":4,"l":0.15,"x":0.83,"y":0.74},{"k":"r5","i":5,"l":0.15,"x":1.03,"y":0.65},{"k":"r5","i":6,"l":0.15,"x":1.2,"y":0.4},{"k":"r5","i":7,"l":0.15,"x":1.32,"y":0},{"k":"r5","i":8,"l":0.15,"x":1.2,"y":-0.4},{"k":"r5","i":9,"l":0.15,"x":1.03,"y":-0.65},{"k":"r5","i":10,"l":0.15,"x":0.83,"y":-0.74},{"k":"r5","i":11,"l":0.15,"x":0.65,"y":-0.68},{"k":"r5","i":12,"l":0.15,"x":0.55,"y":-0.45},
{"k":"r6","i":1,"l":0.18,"x":0.6,"y":0},{"k":"r6","i":2,"l":0.18,"x":0.63,"y":0.33},{"k":"r6","i":3,"l":0.18,"x":0.72,"y":0.5},{"k":"r6","i":4,"l":0.18,"x":0.87,"y":0.56},{"k":"r6","i":5,"l":0.18,"x":1.02,"y":0.5},{"k":"r6","i":6,"l":0.18,"x":1.12,"y":0.3},{"k":"r6","i":7,"l":0.18,"x":1.18,"y":0},{"k":"r6","i":8,"l":0.18,"x":1.12,"y":-0.3},{"k":"r6","i":9,"l":0.18,"x":1.02,"y":-0.5},{"k":"r6","i":10,"l":0.18,"x":0.87,"y":-0.56},{"k":"r6","i":11,"l":0.18,"x":0.72,"y":-0.5},{"k":"r6","i":12,"l":0.18,"x":0.63,"y":-0.33}
],
"charges":[{"x":0.87,"y":0,"q":1,"m":0.21},{"x":-0.87,"y":0,"q":-1,"m":0.21},{"x":-2.38,"y":0,"q":1,"m":0.05},{"x":2.38,"y":0,"q":-1,"m":0.05}],
"exp":[{"x":-3.9,"y":0.01},{"x":-3.7,"y":0.012},{"x":-3.45,"y":0.015},{"x":-3.2,"y":0.02},{"x":-3,"y":0.018},{"x":-2.75,"y":0.02},{"x":-2.5,"y":0.05},{"x":-2.3,"y":0.07},{"x":-2,"y":0.075},{"x":-1.85,"y":0.08},{"x":-1.6,"y":0.11},{"x":-1.4,"y":0.12},{"x":-1.2,"y":0.11},{"x":-1,"y":0.11},{"x":-0.8,"y":0.095},{"x":-0.55,"y":0.065},{"x":-0.3,"y":0.025},{"x":-0.05,"y":-0.03},{"x":0.3,"y":-0.075},{"x":0.5,"y":-0.11},{"x":0.75,"y":-0.135},{"x":1,"y":-0.15},{"x":1.25,"y":-0.155},{"x":1.5,"y":-0.155},{"x":1.75,"y":-0.135},{"x":2.2,"y":-0.1},{"x":2.45,"y":-0.05},{"x":2.7,"y":-0.045},{"x":2.95,"y":-0.03},{"x":3.3,"y":-0.025},{"x":3.6,"y":-0.01},{"x":3.85,"y":0}],
"inset":[{"x":0,"y":0.0193},{"x":0.27,"y":0.053},{"x":0.5,"y":0.082},{"x":0.72,"y":0.098},{"x":1,"y":0.112},{"x":1.2,"y":0.117},{"x":1.5,"y":0.112},{"x":1.78,"y":0.09},{"x":2.05,"y":0.082},{"x":2.3,"y":0.075},{"x":2.5,"y":0.037},{"x":2.8,"y":0.03},{"x":3.05,"y":0.024},{"x":3.3,"y":0.015},{"x":3.53,"y":0.01},{"x":3.75,"y":0.001}],
"insetLine":[{"x":0.01,"y":0.0001},{"x":0.02,"y":0.002},{"x":0.05,"y":0.005},{"x":0.1,"y":0.015},{"x":0.25,"y":0.04},{"x":0.5,"y":0.08},{"x":1,"y":0.12},{"x":1.3,"y":0.125},{"x":1.5,"y":0.115},{"x":2,"y":0.085},{"x":2.5,"y":0.05},{"x":3,"y":0.025},{"x":3.5,"y":0.009},{"x":4,"y":0.0014}]},
"layer":[
{"encoding":{"x":{"field":"x","type":"quantitative","scale":{"domain":[-4,4],"range":[46,223],"nice":false,"zero":false},"axis":{"orient":"bottom","offset":-62,"values":[-4,-2,0,2,4],"format":"~g","labelExpr":"replace(datum.label,'−','-')","title":"x (mm)","titlePadding":4}},"y":{"field":"y","type":"quantitative","scale":{"domain":[-4,4],"range":[204,27.5],"nice":false,"zero":false},"axis":{"orient":"left","offset":-46,"values":[-4,-2,0,2,4],"format":"~g","labelExpr":"replace(datum.label,'−','-')","title":"y (mm)","titlePadding":3}}},
"layer":[
{"data":{"values":[{"x":-4,"x2":4,"y":-4,"y2":4}]},"mark":{"type":"rect","fill":"#8080ff","stroke":"#aaa","strokeWidth":1},"encoding":{"x2":{"field":"x2"},"y2":{"field":"y2"}}},
{"data":{"name":"field"},"mark":{"type":"square","size":60,"strokeWidth":0,"opacity":1},"encoding":{"color":{"field":"v","type":"quantitative","scale":{"domain":[-0.023,0.023],"range":["#00ffff","#ff00ff"],"interpolate":"rgb"},"legend":null}}},
{"data":{"values":[{"x":0,"y":-4,"y2":4}]},"mark":{"type":"rule","stroke":"#fff","strokeWidth":1.2},"encoding":{"y2":{"field":"y2"}}},
{"data":{"values":[{"y":0,"x":-4,"x2":4}]},"mark":{"type":"rule","stroke":"#fff","strokeWidth":1.2},"encoding":{"x2":{"field":"x2"}}},
{"data":{"name":"field"},"mark":{"type":"point","shape":"M-1,0L1,0","filled":false,"stroke":"#000","strokeWidth":1.2,"size":38,"opacity":1},"encoding":{"angle":{"field":"a","type":"quantitative","scale":{"domain":[-90,90],"range":[90,-90]},"legend":null}}},
{"data":{"values":[{"x":-5.22,"y":4.34,"t":"(a)"}]},"mark":{"type":"text","fontSize":16,"align":"center","baseline":"middle"},"encoding":{"text":{"field":"t"}}}
]},
{"data":{"values":[{"x":0,"x2":1,"y":-0.02,"y2":0.02}]},"mark":{"type":"rect","stroke":"#aaa","strokeWidth":0.5,"fill":{"gradient":"linear","x1":0,"y1":1,"x2":0,"y2":0,"stops":[{"offset":0,"color":"#00ffff"},{"offset":1,"color":"#ff00ff"}]}},"encoding":{"x":{"field":"x","type":"quantitative","scale":{"domain":[0,1],"range":[229.5,235.5],"nice":false},"axis":null},"x2":{"field":"x2"},"y":{"field":"y","type":"quantitative","scale":{"domain":[-0.02,0.02],"range":[204,27.5],"nice":false,"zero":false},"axis":{"orient":"right","offset":-594.5,"values":[-0.02,-0.01,0,0.01,0.02],"format":"~g","labelExpr":"replace(datum.label,'−','-')","ticks":false,"labelPadding":4,"title":"vᵧ (mm.s⁻¹)","titleFontSize":17,"titleAngle":270,"titlePadding":13}},"y2":{"field":"y2"}}},
{"encoding":{"x":{"field":"x","type":"quantitative","scale":{"domain":[-4,4],"range":[352.3,529.7],"nice":false,"zero":false},"axis":{"orient":"bottom","offset":-60,"values":[-4,-2,0,2,4],"format":"~g","labelExpr":"replace(datum.label,'−','-')","title":"x (mm)","titlePadding":4}},"y":{"field":"y","type":"quantitative","scale":{"domain":[-0.2,0.2],"range":[206,29],"nice":false,"zero":false},"axis":{"orient":"left","offset":-352.3,"values":[-0.2,-0.1,0,0.1,0.2],"format":"~g","labelExpr":"replace(datum.label,'−','-')","title":"vᵧ/v₀","titleFontSize":21,"titlePadding":3}}},
"layer":[
{"data":{"values":[{"x":-4,"y":-0.043,"y2":0.066},{"x":-3.5,"y":-0.035,"y2":0.074},{"x":-3,"y":-0.038,"y2":0.069},{"x":-2.5,"y":-0.013,"y2":0.09},{"x":-2,"y":0.021,"y2":0.123},{"x":-1.5,"y":0.063,"y2":0.18},{"x":-1.2,"y":0.052,"y2":0.16},{"x":-1,"y":0.055,"y2":0.168},{"x":-0.5,"y":0.002,"y2":0.115},{"x":0,"y":-0.05,"y2":0.025},{"x":0.5,"y":-0.118,"y2":-0.05},{"x":1,"y":-0.168,"y2":-0.094},{"x":1.3,"y":-0.2,"y2":-0.098},{"x":1.5,"y":-0.2,"y2":-0.098},{"x":2,"y":-0.179,"y2":-0.066},{"x":2.5,"y":-0.115,"y2":0.002},{"x":3,"y":-0.088,"y2":0.026},{"x":3.5,"y":-0.07,"y2":0.044},{"x":4,"y":-0.057,"y2":0.055}]},"mark":{"type":"area","fill":"#fbd3e4","opacity":1},"encoding":{"y2":{"field":"y2"}}},
{"data":{"values":[{"x":-4,"x2":4,"y":-0.2,"y2":0.2}]},"mark":{"type":"rect","fill":"transparent","stroke":"#aaa","strokeWidth":1},"encoding":{"x2":{"field":"x2"},"y2":{"field":"y2"}}},
{"data":{"name":"exp"},"mark":{"type":"point","shape":"circle","filled":true,"size":105,"fill":"#d81b66","stroke":"#c2185b","strokeWidth":1,"opacity":0.85}},
{"data":{"values":[{"x":-4,"y":0},{"x":-3.5,"y":0.003},{"x":-3,"y":0.02},{"x":-2.5,"y":0.05},{"x":-2,"y":0.095},{"x":-1.5,"y":0.135},{"x":-1.2,"y":0.145},{"x":-1,"y":0.14},{"x":-0.5,"y":0.08},{"x":0,"y":0},{"x":0.5,"y":-0.09},{"x":1,"y":-0.14},{"x":1.2,"y":-0.145},{"x":1.5,"y":-0.135},{"x":2,"y":-0.1},{"x":2.5,"y":-0.06},{"x":3,"y":-0.025},{"x":3.5,"y":-0.008},{"x":4,"y":0}]},"mark":{"type":"line","stroke":"#4fc3f0","strokeWidth":2.5,"interpolate":"monotone"}},
{"data":{"values":[{"x":-4,"y":0.001},{"x":-3.5,"y":0.01},{"x":-3,"y":0.028},{"x":-2.5,"y":0.065},{"x":-2,"y":0.108},{"x":-1.5,"y":0.14},{"x":-1,"y":0.137},{"x":-0.5,"y":0.087},{"x":0,"y":0},{"x":0.5,"y":-0.087},{"x":1,"y":-0.137},{"x":1.5,"y":-0.14},{"x":2,"y":-0.108},{"x":2.5,"y":-0.065},{"x":3,"y":-0.028},{"x":3.5,"y":-0.01},{"x":4,"y":0}]},"mark":{"type":"point","shape":"triangle-up","filled":true,"size":170,"fill":"#4a148c","stroke":"#7b4fb5","strokeWidth":0.6,"opacity":1}},
{"data":{"values":[{"x":-3.59,"y":-0.122}]},"mark":{"type":"point","shape":"circle","filled":true,"size":105,"fill":"#d81b66","stroke":"#c2185b","strokeWidth":1,"opacity":0.9}},
{"data":{"values":[{"x":-3.83,"x2":-3.32,"y":-0.15}]},"mark":{"type":"rule","stroke":"#4fc3f0","strokeWidth":2.5},"encoding":{"x2":{"field":"x2"}}},
{"data":{"values":[{"x":-3.59,"y":-0.179}]},"mark":{"type":"point","shape":"triangle-up","filled":true,"size":170,"fill":"#4a148c","stroke":"#7b4fb5","strokeWidth":0.6,"opacity":1}},
{"data":{"values":[{"x":-3.3,"y":-0.122,"t":"Exp."},{"x":-3.28,"y":-0.15,"t":"Theory"},{"x":-3.28,"y":-0.179,"t":"F.E.M"}]},"mark":{"type":"text","fontSize":11,"align":"left","baseline":"middle"},"encoding":{"text":{"field":"t"}}},
{"data":{"values":[{"x":-5.77,"y":0.22,"t":"(b)"}]},"mark":{"type":"text","fontSize":16,"align":"center","baseline":"middle"},"encoding":{"text":{"field":"t"}}}
]},
{"encoding":{"x":{"field":"x","type":"quantitative","scale":{"domain":[0,4],"range":[465.3,524.7],"nice":false,"zero":false},"axis":{"orient":"bottom","offset":-172.7,"values":[0,2,4],"format":"~g","labelFontSize":10,"tickSize":-2,"labelPadding":5,"title":null}},"y":{"field":"y","type":"quantitative","scale":{"type":"log","domain":[0.0001,0.214],"range":[93.3,35],"nice":false},"axis":{"orient":"left","offset":-465.3,"values":[0.01,0.0001],"labelExpr":"datum.value>0.001?'10⁻²':'10⁻⁴'","labelFontSize":10,"tickSize":-2,"labelPadding":5,"title":null}}},
"layer":[
{"data":{"values":[{"x":0,"x2":4,"y":0.0001,"y2":0.214}]},"mark":{"type":"rect","fill":"transparent","stroke":"#888","strokeWidth":0.8},"encoding":{"x2":{"field":"x2"},"y2":{"field":"y2"}}},
{"data":{"name":"insetLine"},"mark":{"type":"line","stroke":"#4fc3f0","strokeWidth":2.5}},
{"data":{"name":"insetLine"},"mark":{"type":"line","stroke":"#5b1fa5","strokeWidth":1.4,"strokeDash":[3,3]}},
{"data":{"name":"inset"},"mark":{"type":"point","shape":"circle","filled":true,"size":30,"fill":"#d81b66","opacity":0.95}}
]},
{"encoding":{"x":{"field":"x","type":"quantitative","scale":{"domain":[-4,4],"range":[585,762.7],"nice":false,"zero":false},"axis":{"orient":"bottom","offset":-60.5,"values":[-4,-2,0,2,4],"format":"~g","labelExpr":"replace(datum.label,'−','-')","title":"x (mm)","titlePadding":4}},"y":{"field":"y","type":"quantitative","scale":{"domain":[-4,4],"range":[205.5,29],"nice":false,"zero":false},"axis":{"orient":"left","offset":-585,"values":[-4,-2,0,2,4],"format":"~g","labelExpr":"replace(datum.label,'−','-')","title":"y (mm)","titlePadding":3}}},
"layer":[
{"data":{"values":[{"x":-4,"x2":4,"y":-4,"y2":4}]},"mark":{"type":"rect","fill":"#f5f8ff","stroke":"#aaa","strokeWidth":1},"encoding":{"x2":{"field":"x2"},"y2":{"field":"y2"}}},
{"data":{"name":"contours"},"mark":{"type":"line","interpolate":"cardinal-closed","stroke":"#555","strokeWidth":0.7},"encoding":{"detail":{"field":"k"},"order":{"field":"i","type":"quantitative"},"fill":{"field":"l","type":"quantitative","scale":{"domain":[-0.256,-0.2,-0.15,-0.1,-0.04,0,0.03,0.1,0.15,0.213],"range":["#1a1a4f","#2a48a0","#1a6cc4","#4f94bd","#a5c4cc","#e8e8e8","#e8d5cc","#d08a68","#b8392b","#6e0a20"],"interpolate":"rgb"},"legend":null}}},
{"data":{"name":"charges"},"mark":{"type":"point","shape":"circle","filled":true,"stroke":"#000","strokeWidth":2.2,"opacity":1},"encoding":{"fill":{"field":"q","type":"nominal","scale":{"domain":[-1,1],"range":["#0c2a80","#7a0d20"]},"legend":null},"size":{"field":"m","type":"quantitative","scale":{"domain":[0.05,0.21],"range":[48,80]},"legend":null}}},
{"data":{"name":"charges"},"transform":[{"filter":"datum.q>0"}],"mark":{"type":"point","shape":"M-1,0L1,0M0,-1L0,1","filled":false,"stroke":"#fff","strokeWidth":1.1,"opacity":1},"encoding":{"size":{"field":"m","type":"quantitative","scale":{"domain":[0.05,0.21],"range":[25,64]},"legend":null}}},
{"data":{"name":"charges"},"transform":[{"filter":"datum.q<0"}],"mark":{"type":"point","shape":"M-1,0L1,0","filled":false,"stroke":"#fff","strokeWidth":1.1,"opacity":1},"encoding":{"size":{"field":"m","type":"quantitative","scale":{"domain":[0.05,0.21],"range":[25,64]},"legend":null}}},
{"data":{"values":[{"x":-5.67,"y":4.41,"t":"(c)"}]},"mark":{"type":"text","fontSize":16,"align":"center","baseline":"middle"},"encoding":{"text":{"field":"t"}}}
]},
{"data":{"values":[{"x":0,"x2":1,"y":-0.256,"y2":0.213}]},"mark":{"type":"rect","stroke":"#aaa","strokeWidth":0.5,"fill":{"gradient":"linear","x1":0,"y1":1,"x2":0,"y2":0,"stops":[{"offset":0,"color":"#1a1a4f"},{"offset":0.119,"color":"#2a48a0"},{"offset":0.226,"color":"#1a6cc4"},{"offset":0.332,"color":"#4f94bd"},{"offset":0.46,"color":"#a5c4cc"},{"offset":0.546,"color":"#e8e8e8"},{"offset":0.61,"color":"#e8d5cc"},{"offset":0.759,"color":"#d08a68"},{"offset":0.866,"color":"#b8392b"},{"offset":1,"color":"#6e0a20"}]}},"encoding":{"x":{"field":"x","type":"quantitative","scale":{"domain":[0,1],"range":[768,774.3],"nice":false},"axis":null},"x2":{"field":"x2"},"y":{"field":"y","type":"quantitative","scale":{"domain":[-0.256,0.213],"range":[205.5,29],"nice":false,"zero":false},"axis":{"orient":"right","offset":-55.7,"values":[-0.2,-0.1,0,0.1,0.2],"format":"~g","labelExpr":"replace(datum.label,'−','-')","ticks":false,"labelPadding":3,"title":"Normalized Charge Distribution","titleFontSize":12.5,"titleAngle":270,"titlePadding":14}},"y2":{"field":"y2"}}}
]}
